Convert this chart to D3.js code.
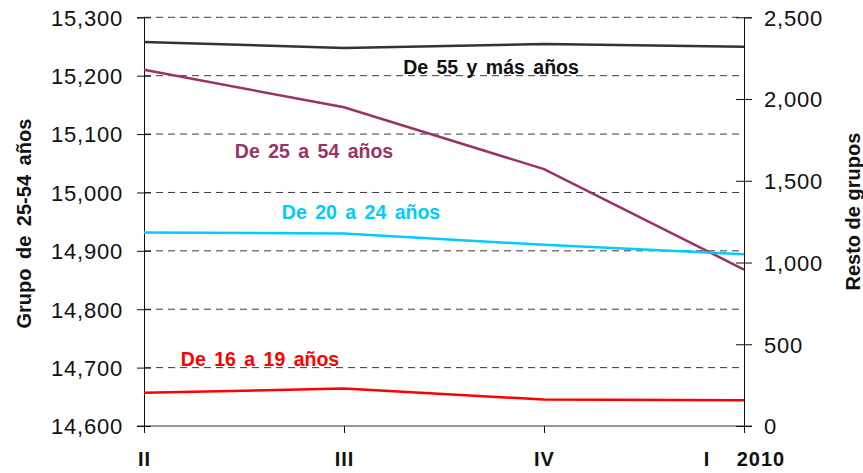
<!DOCTYPE html>
<html lang="es">
<head>
<meta charset="UTF-8">
<title>Ocupados por grupos de edad</title>
<style>
  body { margin: 0; background: #fff; }
  svg { font-family: "Liberation Sans", Arial, sans-serif; }
  .tick text { fill: #111; }
</style>
</head>
<body>
<svg></svg>
<script src="https://d3js.org/d3.v7.min.js"></script>
<script>
// trimestres (2009 II .. 2010 I)
const quarters = ["II", "III", "IV", "I"];
const yearLabel = "2010";

// miles de personas
const g25a54 = [15210, 15146, 15040, 14868];   // eje izquierdo
const g55mas = [2349, 2312, 2336, 2320];       // eje derecho
const g20a24 = [1184, 1178, 1108, 1050];
const g16a19 = [203, 229, 162, 158];

const leftTicks = [14600, 14700, 14800, 14900, 15000, 15100, 15200, 15300];
const rightTicks = [0, 500, 1000, 1500, 2000, 2500];

const width = 863, height = 473;
const margin = {top: 17.3, right: 119, bottom: 47, left: 144};

const svg = d3.select("svg").attr("width", width).attr("height", height);

const x = d3.scalePoint().domain(quarters).range([margin.left, width - margin.right]);
const yL = d3.scaleLinear().domain([14600, 15300]).range([height - margin.bottom, margin.top]);
const yR = d3.scaleLinear().domain([0, 2500]).range([height - margin.bottom, margin.top]);

const fmt = d3.format(",");

// grid (dashed, from left axis ticks)
svg.append("g")
  .selectAll("line")
  .data(leftTicks.filter(d => d > 14600))
  .join("line")
    .attr("x1", margin.left).attr("x2", width - margin.right)
    .attr("y1", d => yL(d)).attr("y2", d => yL(d))
    .attr("stroke", "#3a3a3a").attr("stroke-width", 1)
    .attr("stroke-dasharray", "7,5");

// bottom baseline
svg.append("line")
  .attr("x1", margin.left - 7).attr("x2", width - margin.right + 8)
  .attr("y1", yL(14600)).attr("y2", yL(14600))
  .attr("stroke", "#777").attr("stroke-width", 1.5);

// left axis
const axL = svg.append("g")
  .attr("transform", `translate(${margin.left},0)`)
  .call(d3.axisLeft(yL).tickValues(leftTicks).tickFormat(fmt).tickSize(7).tickPadding(14));
axL.select(".domain").attr("stroke", "#111");
axL.selectAll(".tick line").attr("x2", 7).attr("x1", -7).attr("stroke", "#111");
axL.selectAll(".tick text").attr("font-size", 22).attr("letter-spacing", 0.8).attr("dy", "0.36em");

// right axis
const axR = svg.append("g")
  .attr("transform", `translate(${width - margin.right},0)`)
  .call(d3.axisRight(yR).tickValues(rightTicks).tickFormat(fmt).tickSize(8).tickPadding(12));
axR.select(".domain").attr("stroke", "#111");
axR.selectAll(".tick line").attr("x1", -8).attr("x2", 8).attr("stroke", "#111");
axR.selectAll(".tick text").attr("font-size", 22).attr("letter-spacing", 0.8).attr("dy", "0.36em");

// x axis
const axX = svg.append("g")
  .attr("transform", `translate(0,${height - margin.bottom})`)
  .call(d3.axisBottom(x).tickSize(7).tickPadding(19)
    .tickFormat(d => d === "I" ? "I\u00a0\u00a0\u00a0\u00a0" + yearLabel : d));
axX.select(".domain").remove();
axX.selectAll(".tick line").attr("stroke", "#111");
axX.selectAll(".tick text").attr("font-size", 20).attr("font-weight", "bold")
  .attr("letter-spacing", 1).attr("dy", "0.71em");

// axis titles
svg.append("text")
  .attr("transform", `translate(31,${(margin.top + height - margin.bottom) / 2 + 2}) rotate(-90)`)
  .attr("text-anchor", "middle")
  .attr("font-size", 20).attr("font-weight", "bold").attr("word-spacing", 4)
  .attr("fill", "#111")
  .text("Grupo de 25-54 años");

svg.append("text")
  .attr("transform", `translate(860,${(margin.top + height - margin.bottom) / 2 - 10}) rotate(-90)`)
  .attr("text-anchor", "middle")
  .attr("font-size", 20).attr("font-weight", "bold")
  .attr("fill", "#111")
  .text("Resto de grupos");

// series
const series = [
  {name: "De 55 y más años", values: g55mas, y: yR, color: "#333333", lx: 491, ly: 74},
  {name: "De 25 a 54 años", values: g25a54, y: yL, color: "#993366", lx: 314, ly: 158},
  {name: "De 20 a 24 años", values: g20a24, y: yR, color: "#00CCFF", lx: 361, ly: 219},
  {name: "De 16 a 19 años", values: g16a19, y: yR, color: "#FF0000", lx: 260, ly: 366}
];

series.forEach(s => {
  const line = d3.line()
    .x((d, i) => x(quarters[i]))
    .y(d => s.y(d));
  svg.append("path")
    .datum(s.values)
    .attr("d", line)
    .attr("fill", "none")
    .attr("stroke", s.color)
    .attr("stroke-width", 2.5);

  svg.append("text")
    .attr("x", s.lx).attr("y", s.ly)
    .attr("text-anchor", "middle")
    .attr("font-size", 19.5).attr("font-weight", "bold").attr("word-spacing", 3)
    .attr("fill", s.color === "#333333" ? "#111" : s.color)
    .text(s.name);
});
</script>
</body>
</html>
